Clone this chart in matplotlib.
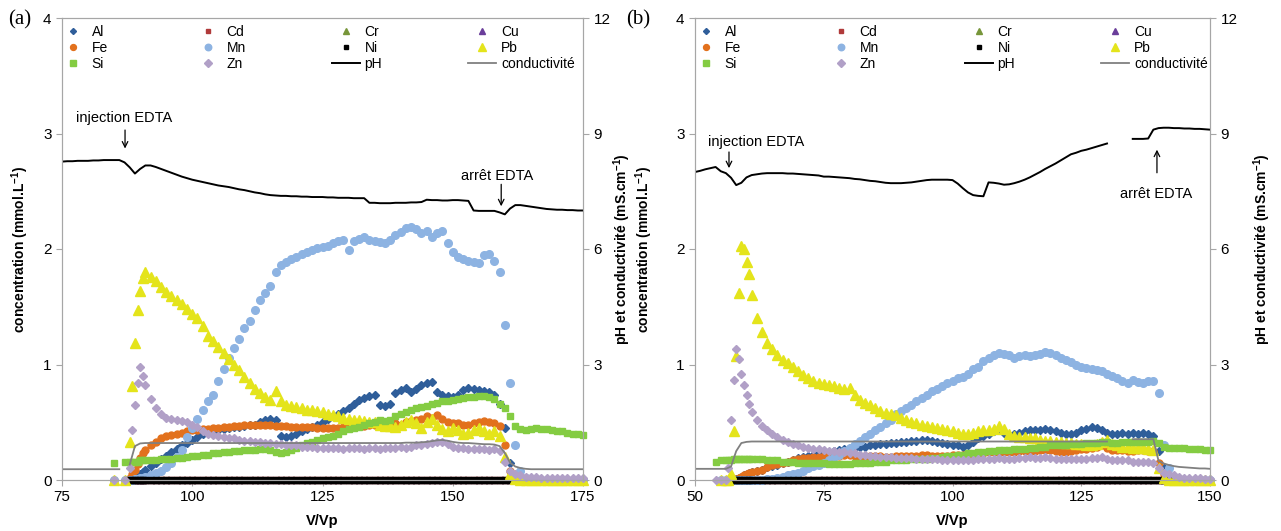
import numpy as np
import matplotlib
matplotlib.use("Agg")
import matplotlib.pyplot as plt
from matplotlib.lines import Line2D

nan = np.nan

# ---------------- panel (a) ----------------
# V/Vp sampling of the metal analyses
XA = [84, 85, 86, 87, 88, 88.5, 89, 89.5, 90, 90.5, 91] + list(range(92, 176))

AL_A = [nan, 0, nan, 0, 0, 0.01, 0.02, 0.03, 0.05, 0.07, 0.09,
        0.12, 0.15, 0.18, 0.21, 0.24, 0.27, 0.30, 0.32, 0.35, 0.37,
        0.40, 0.41, 0.42, 0.43, 0.44, 0.45, 0.46, 0.46, 0.47, 0.48,
        0.48, 0.50, 0.52, 0.53, 0.52, 0.38, 0.37, 0.38, 0.40, 0.42,
        0.44, 0.46, 0.48, 0.50, 0.53, 0.55, 0.57, 0.60, 0.62, 0.66,
        0.69, 0.71, 0.73, 0.74, 0.65, 0.64, 0.66, 0.75, 0.78, 0.80,
        0.76, 0.79, 0.82, 0.84, 0.85, 0.76, 0.74, 0.73, 0.72, 0.74,
        0.78, 0.80, 0.79, 0.78, 0.77, 0.76, 0.74, 0.66, 0.45, 0.15,
        0.03, 0, 0, 0, 0, 0, 0, 0, 0, 0,
        0, 0, 0, 0]
FE_A = [nan, 0, nan, 0, 0.02, 0.05, 0.09, 0.14, 0.19, 0.23, 0.26,
        0.30, 0.33, 0.36, 0.38, 0.39, 0.40, 0.41, 0.42, 0.43, 0.43,
        0.44, 0.44, 0.45, 0.45, 0.46, 0.46, 0.47, 0.47, 0.48, 0.48,
        0.48, 0.48, 0.48, 0.48, 0.47, 0.47, 0.47, 0.46, 0.46, 0.46,
        0.46, 0.46, 0.45, 0.45, 0.45, 0.45, 0.45, 0.46, 0.46, 0.47,
        0.47, 0.47, 0.48, 0.48, 0.48, 0.49, 0.50, 0.49, 0.48, 0.50,
        0.51, 0.52, 0.53, 0.55, 0.54, 0.56, 0.53, 0.50, 0.49, 0.49,
        0.48, 0.48, 0.49, 0.50, 0.51, 0.50, 0.49, 0.47, 0.30, 0.08,
        0.01, 0, 0, 0, 0, 0, 0, 0, 0, 0,
        0, 0, 0, 0]
MN_A = [nan, 0, nan, 0, 0, 0, 0.01, 0.01, 0.02, 0.02, 0.03,
        0.04, 0.06, 0.08, 0.11, 0.15, 0.20, 0.26, 0.37, 0.45, 0.53,
        0.61, 0.68, 0.74, 0.86, 0.96, 1.06, 1.14, 1.22, 1.32, 1.38,
        1.47, 1.56, 1.62, 1.68, 1.80, 1.86, 1.89, 1.91, 1.93, 1.96,
        1.97, 1.99, 2.01, 2.02, 2.03, 2.05, 2.07, 2.08, 1.99, 2.07,
        2.09, 2.10, 2.08, 2.07, 2.06, 2.05, 2.08, 2.12, 2.15, 2.18,
        2.19, 2.17, 2.14, 2.16, 2.10, 2.14, 2.16, 2.05, 1.97, 1.93,
        1.91, 1.90, 1.89, 1.88, 1.95, 1.96, 1.90, 1.80, 1.34, 0.84,
        0.30, 0.08, 0.02, 0, 0, 0, 0, 0, 0, 0,
        0, 0, 0, 0]
PB_A = [nan, 0, nan, 0, 0.33, 0.81, 1.19, 1.47, 1.64, 1.75, 1.80,
        1.76, 1.72, 1.67, 1.63, 1.59, 1.56, 1.52, 1.48, 1.44, 1.40,
        1.33, 1.25, 1.20, 1.15, 1.10, 1.05, 1.00, 0.95, 0.89, 0.84,
        0.79, 0.75, 0.72, 0.69, 0.77, 0.68, 0.65, 0.64, 0.63, 0.62,
        0.61, 0.61, 0.60, 0.59, 0.57, 0.56, 0.55, 0.54, 0.53, 0.52,
        0.52, 0.51, 0.50, 0.50, 0.48, 0.47, 0.47, 0.46, 0.48, 0.50,
        0.52, 0.49, 0.45, 0.50, 0.53, 0.48, 0.44, 0.42, 0.45, 0.43,
        0.40, 0.41, 0.43, 0.45, 0.42, 0.40, 0.42, 0.38, 0.20, 0.05,
        0.01, 0, 0, 0, 0, 0, 0, 0, 0, 0,
        0, 0, 0, 0]
SI_A = [nan, 0.15, nan, 0.16, 0.16, 0.16, 0.16, 0.16, 0.17, 0.17, 0.17,
        0.17, 0.17, 0.18, 0.18, 0.18, 0.19, 0.19, 0.20, 0.21, 0.21,
        0.22, 0.22, 0.23, 0.23, 0.24, 0.24, 0.25, 0.25, 0.26, 0.26,
        0.26, 0.27, 0.27, 0.26, 0.24, 0.23, 0.24, 0.26, 0.28, 0.30,
        0.32, 0.33, 0.35, 0.36, 0.37, 0.38, 0.40, 0.42, 0.44, 0.45,
        0.46, 0.48, 0.49, 0.50, 0.52, 0.51, 0.52, 0.55, 0.57, 0.59,
        0.61, 0.62, 0.63, 0.64, 0.66, 0.67, 0.68, 0.68, 0.69, 0.70,
        0.71, 0.72, 0.72, 0.73, 0.73, 0.72, 0.70, 0.66, 0.62, 0.55,
        0.47, 0.44, 0.43, 0.44, 0.45, 0.44, 0.44, 0.43, 0.42, 0.42,
        0.41, 0.40, 0.40, 0.39]
ZN_A = [nan, 0, nan, 0, 0.10, 0.43, 0.65, 0.84, 0.98, 0.90, 0.82,
        0.70, 0.62, 0.57, 0.54, 0.53, 0.52, 0.51, 0.50, 0.48, 0.46,
        0.42, 0.40, 0.39, 0.38, 0.37, 0.36, 0.36, 0.35, 0.34, 0.34,
        0.33, 0.33, 0.32, 0.32, 0.31, 0.31, 0.30, 0.30, 0.30, 0.29,
        0.29, 0.29, 0.28, 0.28, 0.28, 0.28, 0.28, 0.27, 0.28, 0.28,
        0.28, 0.27, 0.28, 0.28, 0.27, 0.28, 0.28, 0.28, 0.29, 0.28,
        0.29, 0.30, 0.30, 0.31, 0.32, 0.33, 0.33, 0.31, 0.29, 0.28,
        0.28, 0.27, 0.27, 0.27, 0.27, 0.26, 0.27, 0.25, 0.16, 0.08,
        0.05, 0.04, 0.03, 0.03, 0.03, 0.02, 0.02, 0.02, 0.02, 0.02,
        0.02, 0.02, 0.02, 0.02]
# Cd, Cr, Cu, Ni: all read as 0 between V/Vp 88 and 161
ZERO_A = [nan, nan, nan, nan, 0, 0, 0, 0, 0, 0, 0] + [0.0] * 70 + [nan] * 14

# pH / conductivity recorded continuously
XLA = list(range(75, 176))
PH_A = [8.27, 8.28, 8.28, 8.29, 8.29, 8.29, 8.30, 8.30, 8.31, 8.31,
        8.31, 8.31, 8.25, 8.12, 7.96, 8.08, 8.17, 8.17, 8.13, 8.08,
        8.03, 7.98, 7.93, 7.88, 7.84, 7.80, 7.77, 7.74, 7.71, 7.68,
        7.65, 7.63, 7.61, 7.58, 7.55, 7.53, 7.50, 7.47, 7.45, 7.42,
        7.40, 7.39, 7.38, 7.38, 7.37, 7.37, 7.36, 7.36, 7.35, 7.35,
        7.35, 7.34, 7.34, 7.33, 7.33, 7.33, 7.32, 7.32, 7.32, 7.20,
        7.20, 7.19, 7.19, 7.19, 7.20, 7.20, 7.20, 7.21, 7.21, 7.22,
        7.28, 7.27, 7.27, 7.26, 7.26, 7.27, 7.27, 7.26, 7.25, 7.00,
        6.99, 6.99, 6.99, 6.99, 6.95, 6.90, 7.05, 7.14, 7.14, 7.12,
        7.10, 7.08, 7.06, 7.04, 7.03, 7.02, 7.02, 7.01, 7.01, 7.00, 7.00]
COND_A = [0.28, 0.28, 0.28, 0.28, 0.28, 0.28, 0.28, 0.28, 0.28, 0.28,
          0.28, 0.28, nan, 0.40, 0.88, 0.95, 0.96, 0.96, 0.96, 0.96,
          0.96, 0.96, 0.96, 0.96, 0.96, 0.96, 0.96, 0.96, 0.96, 0.96,
          0.96, 0.96, 0.96, 0.96, 0.96, 0.96, 0.96, 0.96, 0.96, 0.96,
          0.96, 0.96, 0.96, 0.96, 0.96, 0.96, 0.96, 0.96, 0.96, 0.96,
          0.96, 0.96, 0.96, 0.96, 0.96, 0.96, 0.96, 0.96, 0.96, 0.96,
          0.96, 0.96, 0.96, 0.96, 0.96, 0.96, 0.97, 0.97, 0.97, 0.98,
          0.99, 1.01, 1.03, 1.04, 1.02, 0.99, 0.97, 0.96, 0.96, 0.95,
          0.94, 0.93, 0.93, 0.92, 0.88, 0.70, 0.45, 0.35, 0.31, 0.29,
          0.28, 0.28, 0.28, 0.28, 0.28, 0.28, 0.28, 0.28, 0.28, 0.28, 0.28]

# ---------------- panel (b) ----------------
XB = [54, 55, 56, 56.5, 57, 57.5, 58, 58.5, 59, 59.5, 60, 60.5, 61] + list(range(62, 151))

AL_B = [nan, 0, 0, 0, 0, 0, 0.01, 0.02, 0.03, 0.04, 0.05, 0.06, 0.07,
        0.08, 0.09, 0.11, 0.12, 0.13, 0.15, 0.16, 0.17, 0.19, 0.20,
        0.21, 0.22, 0.23, 0.24, 0.24, 0.25, 0.26, 0.27, 0.28, 0.28,
        0.29, 0.29, 0.30, 0.30, 0.31, 0.31, 0.32, 0.32, 0.33, 0.33,
        0.34, 0.34, 0.35, 0.35, 0.34, 0.33, 0.32, 0.31, 0.30, 0.30,
        0.29, 0.30, 0.33, 0.36, 0.38, 0.40, 0.42, 0.44, 0.41, 0.39,
        0.40, 0.41, 0.42, 0.43, 0.43, 0.43, 0.44, 0.43, 0.42, 0.41,
        0.40, 0.40, 0.41, 0.43, 0.44, 0.46, 0.45, 0.43, 0.41, 0.40,
        0.40, 0.41, 0.40, 0.41, 0.40, 0.41, 0.40, 0.38, 0.25, 0.10,
        0.04, 0.01, 0, 0, 0, 0, 0, 0, 0]
FE_B = [nan, 0, 0, 0, 0, 0, 0.01, 0.02, 0.03, 0.04, 0.05, 0.06, 0.07,
        0.08, 0.09, 0.11, 0.13, 0.14, 0.15, 0.16, 0.17, 0.18, 0.19,
        0.19, 0.20, 0.20, 0.21, 0.21, 0.21, 0.21, 0.22, 0.22, 0.21,
        0.21, 0.21, 0.21, 0.21, 0.21, 0.20, 0.20, 0.21, 0.21, 0.21,
        0.21, 0.21, 0.22, 0.22, 0.21, 0.21, 0.21, 0.21, 0.22, 0.22,
        0.22, 0.22, 0.22, 0.23, 0.23, 0.24, 0.24, 0.24, 0.24, 0.24,
        0.24, 0.25, 0.25, 0.25, 0.25, 0.26, 0.26, 0.26, 0.25, 0.24,
        0.24, 0.25, 0.26, 0.27, 0.27, 0.28, 0.29, 0.30, 0.28, 0.26,
        0.26, 0.26, 0.25, 0.25, 0.26, 0.26, 0.25, 0.25, 0.15, 0.05,
        0.01, 0, 0, 0, 0, 0, 0, 0, 0]
MN_B = [nan, 0, 0, 0, 0, 0, 0, 0, 0, 0, 0, 0, 0,
        0, 0, 0.01, 0.01, 0.02, 0.03, 0.04, 0.05, 0.06, 0.08,
        0.10, 0.12, 0.13, 0.15, 0.17, 0.20, 0.22, 0.25, 0.28, 0.31,
        0.34, 0.37, 0.40, 0.43, 0.46, 0.49, 0.52, 0.57, 0.60, 0.62,
        0.65, 0.68, 0.71, 0.74, 0.77, 0.79, 0.81, 0.84, 0.86, 0.88,
        0.89, 0.92, 0.96, 0.98, 1.03, 1.06, 1.08, 1.10, 1.09, 1.08,
        1.06, 1.07, 1.08, 1.07, 1.08, 1.09, 1.11, 1.10, 1.08, 1.06,
        1.04, 1.02, 1.00, 0.98, 0.97, 0.96, 0.95, 0.94, 0.92, 0.90,
        0.88, 0.86, 0.84, 0.87, 0.85, 0.84, 0.86, 0.86, 0.75, 0.30,
        0.10, 0.03, 0.01, 0, 0, 0, 0, 0, 0]
PB_B = [nan, 0, 0, 0, 0.05, 0.42, 1.07, 1.62, 2.03, 2.00, 1.89, 1.78, 1.60,
        1.40, 1.28, 1.19, 1.13, 1.08, 1.04, 1.01, 0.98, 0.94, 0.91,
        0.88, 0.86, 0.84, 0.83, 0.82, 0.81, 0.80, 0.79, 0.80, 0.74,
        0.69, 0.67, 0.65, 0.62, 0.60, 0.58, 0.57, 0.56, 0.54, 0.52,
        0.50, 0.49, 0.48, 0.47, 0.46, 0.45, 0.44, 0.43, 0.42, 0.41,
        0.40, 0.40, 0.41, 0.42, 0.43, 0.43, 0.44, 0.47, 0.44, 0.40,
        0.38, 0.37, 0.37, 0.36, 0.36, 0.35, 0.34, 0.34, 0.33, 0.33,
        0.32, 0.32, 0.31, 0.31, 0.30, 0.30, 0.31, 0.33, 0.35, 0.31,
        0.30, 0.29, 0.29, 0.28, 0.28, 0.28, 0.27, 0.26, 0.10, 0.02,
        0, 0, 0, 0, 0, 0, 0, 0, 0]
SI_B = [0.16, 0.17, 0.17, 0.17, 0.17, 0.18, 0.18, 0.18, 0.18, 0.18, 0.18, 0.18, 0.18,
        0.18, 0.18, 0.17, 0.17, 0.17, 0.16, 0.16, 0.16, 0.15, 0.15,
        0.15, 0.15, 0.15, 0.15, 0.14, 0.14, 0.14, 0.14, 0.14, 0.15,
        0.15, 0.15, 0.15, 0.16, 0.16, 0.16, 0.17, 0.17, 0.17, 0.17,
        0.18, 0.18, 0.18, 0.18, 0.19, 0.19, 0.20, 0.21, 0.21, 0.22,
        0.22, 0.23, 0.23, 0.24, 0.24, 0.25, 0.25, 0.26, 0.26, 0.26,
        0.27, 0.27, 0.27, 0.28, 0.28, 0.29, 0.29, 0.30, 0.30, 0.30,
        0.30, 0.31, 0.31, 0.31, 0.32, 0.32, 0.32, 0.33, 0.33, 0.32,
        0.32, 0.33, 0.33, 0.33, 0.33, 0.33, 0.33, 0.34, 0.32, 0.29,
        0.28, 0.28, 0.28, 0.28, 0.27, 0.27, 0.27, 0.26, 0.26]
ZN_B = [0, 0, 0, 0.10, 0.52, 0.87, 1.13, 1.05, 0.92, 0.82, 0.74, 0.66, 0.59,
        0.52, 0.47, 0.43, 0.40, 0.37, 0.35, 0.33, 0.31, 0.30, 0.29,
        0.28, 0.27, 0.27, 0.26, 0.25, 0.25, 0.24, 0.24, 0.23, 0.23,
        0.22, 0.22, 0.21, 0.21, 0.20, 0.20, 0.20, 0.19, 0.19, 0.19,
        0.19, 0.18, 0.18, 0.18, 0.18, 0.18, 0.17, 0.17, 0.17, 0.17,
        0.17, 0.17, 0.17, 0.18, 0.18, 0.18, 0.18, 0.19, 0.18, 0.18,
        0.18, 0.19, 0.19, 0.20, 0.19, 0.19, 0.20, 0.19, 0.18, 0.18,
        0.18, 0.18, 0.18, 0.18, 0.18, 0.19, 0.19, 0.20, 0.18, 0.17,
        0.17, 0.17, 0.17, 0.16, 0.16, 0.16, 0.16, 0.15, 0.10, 0.06,
        0.05, 0.04, 0.03, 0.02, 0.02, 0.02, 0.02, 0.01, 0.01]
# Cd, Cr, Cu, Ni: all read as 0 between V/Vp 57 and 145
ZERO_B = [nan, nan, nan, nan, 0, 0, 0, 0, 0, 0, 0, 0, 0] + [0.0] * 84 + [nan] * 5

XLB = list(range(50, 151))
PH_B = [8.00, 8.03, 8.07, 8.10, 8.13, 8.02, 7.97, 7.85, 7.66, 7.72,
        7.86, 7.92, 7.94, 7.96, 7.97, 7.97, 7.97, 7.97, 7.96, 7.96,
        7.95, 7.94, 7.93, 7.92, 7.91, 7.88, 7.88, 7.87, 7.86, 7.85,
        7.84, 7.82, 7.81, 7.79, 7.77, 7.76, 7.74, 7.72, 7.71, 7.71,
        7.71, 7.72, 7.73, 7.75, 7.77, 7.79, 7.80, 7.80, 7.80, 7.80,
        7.79, 7.70, 7.58, 7.47, 7.40, 7.38, 7.37, 7.73, 7.72, 7.70,
        7.67, 7.68, 7.71, 7.75, 7.80, 7.86, 7.93, 8.00, 8.08, 8.15,
        8.22, 8.30, 8.38, 8.46, 8.50, 8.55, 8.58, 8.62, 8.66, 8.70,
        8.74, nan, nan, nan, nan, 8.86, 8.86, 8.86, 8.87, 9.10,
        9.14, 9.15, 9.15, 9.14, 9.14, 9.13, 9.13, 9.12, 9.12, 9.11, 9.10]
COND_B = [0.29, 0.29, 0.29, 0.29, 0.29, 0.29, 0.29, 0.35, 0.75, 0.96,
          0.99, 1.00, 1.00, 1.00, 1.00, 1.00, 1.00, 1.00, 1.00, 1.00,
          1.00, 1.00, 1.00, 1.00, 1.00, 1.00, 1.00, 1.00, 1.00, 1.00,
          1.00, 1.00, 1.00, 1.00, 1.00, 1.00, 1.00, 1.00, 1.00, 1.00,
          1.00, 1.00, 1.00, 1.00, 1.00, 1.00, 1.00, 1.00, 1.00, 1.00,
          1.00, 1.00, 1.00, 1.00, 1.00, 1.00, 1.00, 1.00, 1.00, 1.00,
          1.00, 1.00, 1.00, 1.00, 1.00, 1.00, 1.00, 1.00, 1.00, 1.00,
          1.00, 1.00, 1.00, 1.00, 1.00, 1.00, 1.00, 1.00, 1.00, 1.00,
          1.00, nan, nan, nan, nan, 1.06, 1.06, 1.06, 1.06, 1.06,
          0.50, 0.43, 0.39, 0.36, 0.34, 0.33, 0.32, 0.31, 0.30, 0.30, 0.29]

ELEMENTS = ["Al", "Cd", "Cr", "Cu", "Fe", "Mn", "Ni", "Pb", "Si", "Zn"]
STYLE = {
    "Al": ("D", 3.6, "#2f5e9a"),
    "Cd": ("s", 4.0, "#b03a3a"),
    "Cr": ("^", 4.5, "#77963a"),
    "Cu": ("^", 4.5, "#6a3d9a"),
    "Fe": ("o", 5.0, "#e2711d"),
    "Mn": ("o", 5.5, "#8db3e2"),
    "Ni": ("s", 4.0, "black"),
    "Pb": ("^", 6.5, "#e4e41b"),
    "Si": ("s", 4.5, "#84cc42"),
    "Zn": ("D", 4.3, "#b1a0c7"),
}

plt.rcParams["font.family"] = ["Liberation Sans", "DejaVu Sans"]
plt.rcParams["mathtext.default"] = "regular"
GRID_COLOR = "#a6a6a6"


def draw_panel(ax, x, data, xl, ph, cond, xlim, xticks):
    for el in ELEMENTS:
        m, ms, c = STYLE[el]
        ax.plot(x, data[el], ls="none", marker=m, ms=ms, color=c, mec=c,
                clip_on=False)
    ax.set_xlim(*xlim)
    ax.set_ylim(0, 4)
    ax.set_xticks(xticks)
    ax.set_yticks([0, 1, 2, 3, 4])
    ax2 = ax.twinx()
    ax2.plot(xl, ph, color="black", lw=1.4)
    ax2.plot(xl, cond, color="#808080", lw=1.3)
    ax2.set_ylim(0, 12)
    ax2.set_yticks([0, 3, 6, 9, 12])
    for a in (ax, ax2):
        for s in a.spines.values():
            s.set_color(GRID_COLOR)
            s.set_linewidth(0.8)
        a.tick_params(labelsize=11, color=GRID_COLOR, length=4, width=0.8)

    handles = []
    for el in ELEMENTS:
        m, ms, c = STYLE[el]
        handles.append(Line2D([], [], ls="none", marker=m, ms=ms * 0.85,
                              color=c, mec=c, label=el))
    handles.append(Line2D([], [], color="black", lw=1.4, label="pH"))
    handles.append(Line2D([], [], color="#808080", lw=1.3,
                          label="conductivité"))
    # legend is read row by row: reorder for column filling
    order = [0, 4, 8, 1, 5, 9, 2, 6, 10, 3, 7, 11]
    hs = [handles[i] for i in order]
    ax2.legend(handles=hs, loc="upper left", bbox_to_anchor=(-0.006, 0.985),
               ncol=4, frameon=False, fontsize=10, handlelength=2.0,
               handletextpad=0.35, columnspacing=6.2, labelspacing=0.15,
               borderaxespad=0, borderpad=0)
    return ax2


fig = plt.figure(figsize=(12.81, 5.31), dpi=100)
ax_a = fig.add_axes([62 / 1281, 1 - 480 / 531, 521 / 1281, 462 / 531])
ax_b = fig.add_axes([695 / 1281, 1 - 480 / 531, 515 / 1281, 462 / 531])

data_a = {"Al": AL_A, "Cd": ZERO_A, "Cr": ZERO_A, "Cu": ZERO_A, "Fe": FE_A,
          "Mn": MN_A, "Ni": ZERO_A, "Pb": PB_A, "Si": SI_A, "Zn": ZN_A}
data_b = {"Al": AL_B, "Cd": ZERO_B, "Cr": ZERO_B, "Cu": ZERO_B, "Fe": FE_B,
          "Mn": MN_B, "Ni": ZERO_B, "Pb": PB_B, "Si": SI_B, "Zn": ZN_B}

ax2_a = draw_panel(ax_a, XA, data_a, XLA, PH_A, COND_A, (75, 175),
                   [75, 100, 125, 150, 175])
ax2_b = draw_panel(ax_b, XB, data_b, XLB, PH_B, COND_B, (50, 150),
                   [50, 75, 100, 125, 150])

arrow = dict(arrowstyle="->", color="black", lw=0.9, shrinkA=0, shrinkB=0)
ax_a.text(86.9, 3.13, "injection EDTA", ha="center", va="center", fontsize=10.5)
ax_a.annotate("", xy=(87.1, 2.87), xytext=(87.1, 3.03), arrowprops=arrow)
ax_a.text(158.5, 2.63, "arrêt EDTA", ha="center", va="center", fontsize=10.5)
ax_a.annotate("", xy=(159.3, 2.37), xytext=(159.3, 2.56), arrowprops=arrow)

ax_b.text(61.8, 2.93, "injection EDTA", ha="center", va="center", fontsize=10.5)
ax_b.annotate("", xy=(56.6, 2.70), xytext=(56.6, 2.84), arrowprops=arrow)
ax_b.text(139.5, 2.48, "arrêt EDTA", ha="center", va="center", fontsize=10.5)
ax_b.annotate("", xy=(139.7, 2.86), xytext=(139.7, 2.66), arrowprops=arrow)

ylab = "concentration (mmol.L$^{-1}$)"
y2lab = "pH et conductivité (mS.cm$^{-1}$)"
yc = 1 - 249 / 531
fig.text(20 / 1281, yc, ylab, rotation=90, ha="center", va="center",
         fontsize=10, fontweight="bold")
fig.text(622 / 1281, yc, y2lab, rotation=90, ha="center", va="center",
         fontsize=10, fontweight="bold")
fig.text(644 / 1281, yc, ylab, rotation=90, ha="center", va="center",
         fontsize=10, fontweight="bold")
fig.text(1262 / 1281, yc, y2lab, rotation=90, ha="center", va="center",
         fontsize=10, fontweight="bold")
fig.text((62 + 260) / 1281, 1 - 521 / 531, "V/Vp", ha="center", va="center",
         fontsize=10.5, fontweight="bold")
fig.text((695 + 257) / 1281, 1 - 521 / 531, "V/Vp", ha="center", va="center",
         fontsize=10.5, fontweight="bold")

fig.text(8 / 1281, 1 - 20 / 531, "(a)", family="Liberation Serif",
         fontsize=15, ha="left", va="center")
fig.text(626 / 1281, 1 - 20 / 531, "(b)", family="Liberation Serif",
         fontsize=15, ha="left", va="center")

fig.savefig("out.png", dpi=100)
